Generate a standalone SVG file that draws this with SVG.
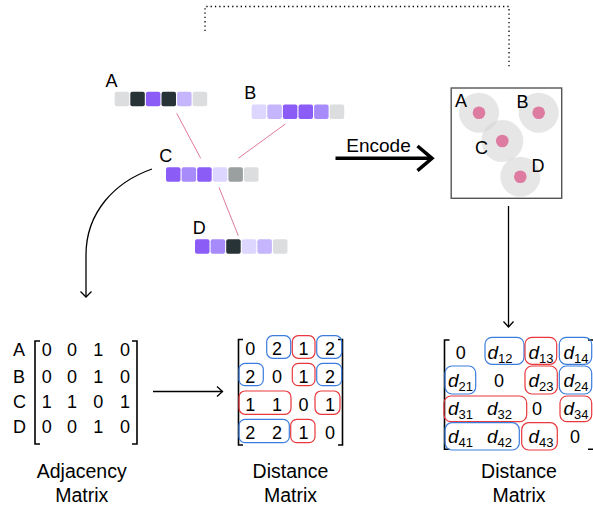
<svg xmlns="http://www.w3.org/2000/svg" width="593" height="506" viewBox="0 0 593 506">
<style>
text{font-family:"Liberation Sans",Arial,sans-serif;fill:#000}
.lbl{font-size:18px}
.cap{font-size:19.5px;text-anchor:middle}
.num{font-size:18px;text-anchor:middle}
.dd{font-size:19px;font-style:italic;text-anchor:middle}
.sub{font-size:13px;font-style:normal}
.sq{stroke:none}
.g1{fill:#dcdddf}.dk{fill:#283338}.pu{fill:#8b5cf6}.md{fill:#a78bfa}.lt{fill:#c4b5fd}.lv{fill:#ddd6fe}.g2{fill:#9a9fa0}
.edge{stroke:#e07a9a;stroke-width:1;fill:none}
.blk{stroke:#000;stroke-width:1.3;fill:none}
.brk{stroke:#000;stroke-width:1.6;fill:none}
.rb{fill:none;stroke:#3b7ddd;stroke-width:1.2}
.rr{fill:none;stroke:#e8383d;stroke-width:1.2}
.halo{fill:#d6d6d6;fill-opacity:0.6}
.dot{fill:#dd7ba0}
</style>
<defs>
<g id="bar"><rect width="14.5" height="14.5" rx="2"/></g>
</defs>

<g id="connectors">
<path d="M205,31 V6.5 H509 V67" fill="none" stroke="#000" stroke-width="1.3" stroke-dasharray="1.3,3"/>
<line class="edge" x1="176.7" y1="113.3" x2="200.7" y2="158.3"/>
<line class="edge" x1="285.3" y1="124" x2="238.3" y2="158.3"/>
<line class="edge" x1="219" y1="187.3" x2="238.3" y2="235.7"/>
<path class="blk" d="M152,169 C115,182 86,212 86,255 L86,297"/>
<path class="blk" d="M80.5,291.5 L86,297 L91.5,291.5"/>
<line class="blk" x1="153" y1="391.5" x2="222.5" y2="391.5"/>
<path class="blk" d="M217,386.5 L222.5,391.5 L217,396.5"/>
<line class="blk" x1="508.5" y1="206" x2="508.5" y2="327"/>
<path class="blk" d="M503.5,321.5 L508.5,327 L513.5,321.5"/>
<line x1="335.5" y1="158.3" x2="431" y2="158.3" stroke="#000" stroke-width="3.5"/>
<path d="M417.5,146 L432,158.3 L417.5,170.6" fill="none" stroke="#000" stroke-width="3.5"/>
<text class="lbl" x="378.5" y="151.5" text-anchor="middle" style="font-size:19px">Encode</text>
</g>

<g id="nodeA">
<text class="lbl" x="105.5" y="86.7">A</text>
<rect class="g1" x="114.7" y="91.7" width="14.5" height="14.5" rx="2"/>
<rect class="dk" x="130.3" y="91.7" width="14.5" height="14.5" rx="2"/>
<rect class="pu" x="145.9" y="91.7" width="14.5" height="14.5" rx="2"/>
<rect class="dk" x="161.5" y="91.7" width="14.5" height="14.5" rx="2"/>
<rect class="lt" x="177.1" y="91.7" width="14.5" height="14.5" rx="2"/>
<rect class="g1" x="192.7" y="91.7" width="14.5" height="14.5" rx="2"/>
</g>

<g id="nodeB">
<text class="lbl" x="244.3" y="99">B</text>
<rect class="lv" x="251.7" y="104.5" width="14.5" height="14.5" rx="2"/>
<rect class="lt" x="267.3" y="104.5" width="14.5" height="14.5" rx="2"/>
<rect class="pu" x="282.9" y="104.5" width="14.5" height="14.5" rx="2"/>
<rect class="pu" x="298.5" y="104.5" width="14.5" height="14.5" rx="2"/>
<rect class="md" x="314.1" y="104.5" width="14.5" height="14.5" rx="2"/>
<rect class="g1" x="329.7" y="104.5" width="14.5" height="14.5" rx="2"/>
</g>

<g id="nodeC">
<text class="lbl" x="159.3" y="161.7">C</text>
<rect class="pu" x="166" y="167.3" width="14.5" height="14.5" rx="2"/>
<rect class="md" x="181.6" y="167.3" width="14.5" height="14.5" rx="2"/>
<rect class="pu" x="197.2" y="167.3" width="14.5" height="14.5" rx="2"/>
<rect class="lv" x="212.8" y="167.3" width="14.5" height="14.5" rx="2"/>
<rect class="g2" x="228.4" y="167.3" width="14.5" height="14.5" rx="2"/>
<rect class="g1" x="244" y="167.3" width="14.5" height="14.5" rx="2"/>
</g>

<g id="nodeD">
<text class="lbl" x="192.7" y="234.3">D</text>
<rect class="pu" x="195" y="239.3" width="14.5" height="14.5" rx="2"/>
<rect class="md" x="210.6" y="239.3" width="14.5" height="14.5" rx="2"/>
<rect class="dk" x="226.2" y="239.3" width="14.5" height="14.5" rx="2"/>
<rect class="lv" x="241.8" y="239.3" width="14.5" height="14.5" rx="2"/>
<rect class="lt" x="257.4" y="239.3" width="14.5" height="14.5" rx="2"/>
<rect class="g1" x="273" y="239.3" width="14.5" height="14.5" rx="2"/>
</g>

<g id="embedding">
<rect x="451.2" y="88" width="110.5" height="110.3" fill="#fff" stroke="#555" stroke-width="1.4"/>
<circle class="halo" cx="479" cy="112.7" r="20"/>
<circle class="halo" cx="538.7" cy="112.7" r="20"/>
<circle class="halo" cx="502.3" cy="141" r="21"/>
<circle class="halo" cx="520.3" cy="176.7" r="20"/>
<circle class="dot" cx="479" cy="112.7" r="6.3"/>
<circle class="dot" cx="538.7" cy="112.7" r="6.3"/>
<circle class="dot" cx="502.3" cy="141" r="6.3"/>
<circle class="dot" cx="520.3" cy="176.7" r="6.3"/>
<text class="lbl" x="455" y="106.5">A</text>
<text class="lbl" x="516.5" y="107.5">B</text>
<text class="lbl" x="475" y="154">C</text>
<text class="lbl" x="531.5" y="172">D</text>
</g>

<g id="adjacency">
<text class="lbl" x="13" y="356">A</text>
<text class="lbl" x="13" y="382.5">B</text>
<text class="lbl" x="13" y="407.5">C</text>
<text class="lbl" x="13" y="433.3">D</text>
<path class="brk" d="M40,341 H35 V444 H40"/>
<path class="brk" d="M132,341 H137 V444 H132"/>
<text class="num" x="46.7" y="356">0</text><text class="num" x="72" y="356">0</text><text class="num" x="98.3" y="356">1</text><text class="num" x="125" y="356">0</text>
<text class="num" x="46.7" y="382.5">0</text><text class="num" x="72" y="382.5">0</text><text class="num" x="98.3" y="382.5">1</text><text class="num" x="125" y="382.5">0</text>
<text class="num" x="46.7" y="407.5">1</text><text class="num" x="72" y="407.5">1</text><text class="num" x="98.3" y="407.5">0</text><text class="num" x="125" y="407.5">1</text>
<text class="num" x="46.7" y="433.3">0</text><text class="num" x="72" y="433.3">0</text><text class="num" x="98.3" y="433.3">1</text><text class="num" x="125" y="433.3">0</text>
<text class="cap" x="81.7" y="477.5">Adjacency</text>
<text class="cap" x="81.7" y="501.5">Matrix</text>
</g>

<g id="distance">
<path class="brk" d="M243,339.5 H238.5 V445 H243"/>
<path class="brk" d="M338,339.5 H342.5 V445 H338"/>
<rect class="rb" x="266.7" y="335.7" width="24" height="22.6" rx="6"/>
<rect class="rr" x="292.3" y="335.7" width="22.7" height="22.6" rx="6"/>
<rect class="rb" x="316.7" y="335.7" width="25" height="22.6" rx="6"/>
<rect class="rb" x="239" y="363.3" width="24.3" height="22.4" rx="6"/>
<rect class="rr" x="292.3" y="363.3" width="22.7" height="22.4" rx="6"/>
<rect class="rb" x="316.7" y="363.3" width="25" height="22.4" rx="6"/>
<rect class="rr" x="239" y="391" width="52" height="23.3" rx="6"/>
<rect class="rr" x="315" y="391" width="25" height="23.3" rx="6"/>
<rect class="rb" x="239" y="419.3" width="50.3" height="23.4" rx="6"/>
<rect class="rr" x="290.7" y="419.3" width="24.3" height="23.4" rx="6"/>
<text class="num" x="250.3" y="355">0</text><text class="num" x="277" y="355">2</text><text class="num" x="303.6" y="355">1</text><text class="num" x="330" y="355">2</text>
<text class="num" x="250.3" y="383.3">2</text><text class="num" x="277" y="383.3">0</text><text class="num" x="303.6" y="383.3">1</text><text class="num" x="330" y="383.3">2</text>
<text class="num" x="250.3" y="410.7">1</text><text class="num" x="277" y="410.7">1</text><text class="num" x="303.6" y="410.7">0</text><text class="num" x="330" y="410.7">1</text>
<text class="num" x="250.3" y="439.3">2</text><text class="num" x="277" y="439.3">2</text><text class="num" x="303.6" y="439.3">1</text><text class="num" x="330" y="439.3">0</text>
<text class="cap" x="290.5" y="478">Distance</text>
<text class="cap" x="290.5" y="501.5">Matrix</text>
</g>

<g id="latent-distance">
<path class="brk" d="M449.5,340 H444.5 V449.3 H449.5"/>
<path class="brk" d="M588,340 H594 M588,449.3 H594"/>
<rect class="rb" x="485" y="337.3" width="39" height="27" rx="7"/>
<rect class="rr" x="525" y="337.3" width="31.7" height="27" rx="7"/>
<rect class="rb" x="559.3" y="337.3" width="32.4" height="27" rx="7"/>
<rect class="rb" x="445" y="366" width="30.7" height="28" rx="7"/>
<rect class="rr" x="525" y="366" width="32.3" height="28" rx="7"/>
<rect class="rb" x="559.3" y="366" width="32.4" height="28" rx="7"/>
<rect class="rr" x="444" y="396" width="82.7" height="25.7" rx="7"/>
<rect class="rr" x="560" y="396" width="31.7" height="25.7" rx="7"/>
<rect class="rb" x="445" y="422.7" width="74.3" height="27.3" rx="7"/>
<rect class="rr" x="521.7" y="422.7" width="35.6" height="27.3" rx="7"/>
<text class="num" x="460.7" y="359">0</text>
<text class="dd" x="500" y="359">d<tspan class="sub" dy="4">12</tspan></text>
<text class="dd" x="541" y="359">d<tspan class="sub" dy="4">13</tspan></text>
<text class="dd" x="576" y="359">d<tspan class="sub" dy="4">14</tspan></text>
<text class="dd" x="460.5" y="387">d<tspan class="sub" dy="4">21</tspan></text>
<text class="num" x="499" y="387">0</text>
<text class="dd" x="541" y="387">d<tspan class="sub" dy="4">23</tspan></text>
<text class="dd" x="576" y="387">d<tspan class="sub" dy="4">24</tspan></text>
<text class="dd" x="460.5" y="415">d<tspan class="sub" dy="4">31</tspan></text>
<text class="dd" x="499.5" y="415">d<tspan class="sub" dy="4">32</tspan></text>
<text class="num" x="537" y="415">0</text>
<text class="dd" x="576" y="415">d<tspan class="sub" dy="4">34</tspan></text>
<text class="dd" x="460.5" y="443">d<tspan class="sub" dy="4">41</tspan></text>
<text class="dd" x="499.5" y="443">d<tspan class="sub" dy="4">42</tspan></text>
<text class="dd" x="541" y="443">d<tspan class="sub" dy="4">43</tspan></text>
<text class="num" x="575" y="443">0</text>
<text class="cap" x="519" y="478">Distance</text>
<text class="cap" x="519" y="501.5">Matrix</text>
</g>
</svg>
